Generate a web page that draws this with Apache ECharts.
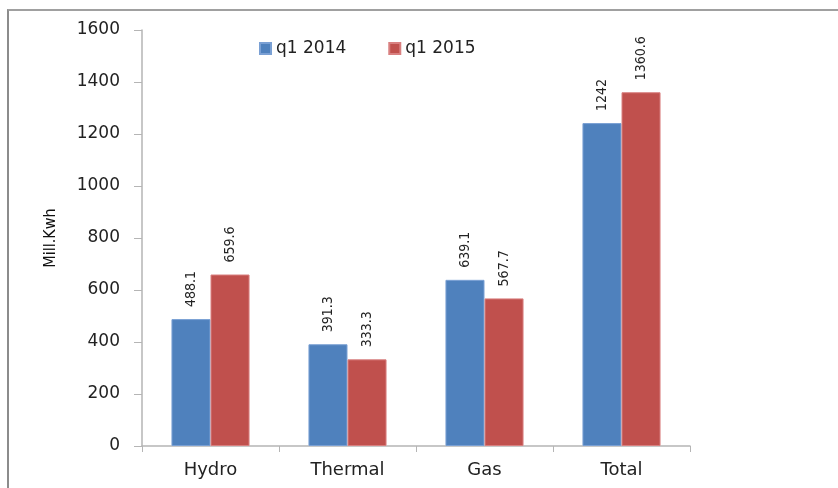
<!DOCTYPE html>
<html>
<head>
<meta charset="utf-8">
<script src="https://cdn.jsdelivr.net/npm/echarts@6/dist/echarts.min.js"></script>
<style>
	html, body { margin: 0; padding: 0; background: #fff; }
	#frame { position: absolute; left: 7px; top: 9px; width: 840px; height: 490px; border-left: 2px solid #8c8c8c; border-top: 2px solid #a0a0a0; }
	#chart { position: absolute; left: 0; top: 0; width: 838px; height: 488px; }
</style>
</head>
<body>
<div id="frame"></div>
<div id="chart"></div>
<script>
var categories = ['Hydro', 'Thermal', 'Gas', 'Total'];
var seriesNames = ['q1 2014', 'q1 2015'];
var q1_2014 = [488.1, 391.3, 639.1, 1242];
var q1_2015 = [659.6, 333.3, 567.7, 1360.6];

var chartInit = echarts.init(document.getElementById('chart'));

function barSeries(name, data, color, border){
	return {
		name: name,
		type: 'bar',
		data: data,
		barGap: '0%',
		barCategoryGap: '43%',
		itemStyle: {
			color: color,
			borderColor: border,
			borderWidth: 1
		},
		label: {
			show: true,
			position: 'top',
			rotate: 90,
			align: 'left',
			verticalAlign: 'middle',
			distance: 12,
			fontFamily: 'DejaVu Sans Condensed',
			fontSize: 14,
			color: '#222',
			formatter: function(p){ return String(p.value); }
		}
	};
}

var option = {
	animation: false,
	textStyle: { fontFamily: 'DejaVu Sans' },
	legend: {
		data: seriesNames,
		left: 254,
		top: 35,
		itemWidth: 11,
		itemHeight: 11,
		itemGap: 42,
		icon: 'rect',
		textStyle: { fontSize: 17, color: '#222', fontFamily: 'DejaVu Sans' }
	},
	grid: {
		left: 142,
		top: 30,
		right: 148,
		bottom: 42,
		containLabel: false
	},
	xAxis: {
		type: 'category',
		data: categories,
		axisLine: { lineStyle: { color: '#b5b5b5', width: 1.5 } },
		axisTick: { show: true, length: 6, lineStyle: { color: '#b5b5b5' } },
		axisLabel: { fontSize: 18, color: '#222', margin: 15 }
	},
	yAxis: {
		type: 'value',
		min: 0,
		max: 1600,
		interval: 200,
		name: 'Mill.Kwh',
		nameLocation: 'middle',
		nameRotate: 90,
		nameGap: 83,
		nameTextStyle: { fontSize: 16, color: '#111', fontFamily: 'DejaVu Sans Condensed' },
		axisLine: { show: true, lineStyle: { color: '#b5b5b5', width: 1.5 } },
		axisTick: { show: true, length: 8, lineStyle: { color: '#b5b5b5' } },
		splitLine: { show: false },
		axisLabel: { fontSize: 17, color: '#222', margin: 22, formatter: function(v){ return String(v); } }
	},
	series: [
		barSeries(seriesNames[0], q1_2014, '#4f81bd', '#7aa0d4'),
		barSeries(seriesNames[1], q1_2015, '#c0504d', '#d98080')
	]
};
chartInit.setOption(option);
</script>
</body>
</html>
